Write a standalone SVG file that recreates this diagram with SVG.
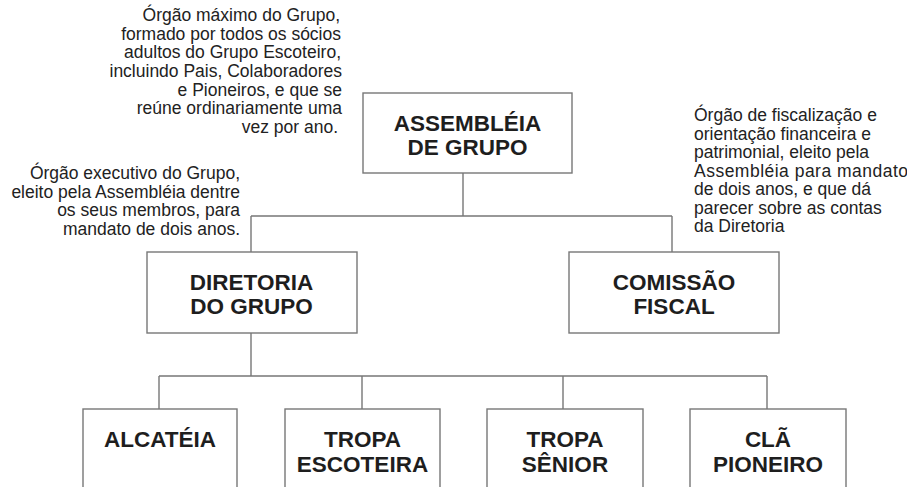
<svg xmlns="http://www.w3.org/2000/svg" width="907" height="487" viewBox="0 0 907 487">
<style>
.box{fill:#fff;stroke:#777;stroke-width:1.4}
.lbl{font-family:"Liberation Sans",Arial,sans-serif;font-weight:bold;font-size:22.5px;fill:#1e1e1e;text-anchor:middle}
.note{font-family:"Liberation Sans",Arial,sans-serif;font-size:17.5px;fill:#222}
.r{text-anchor:end}
.conn{fill:none;stroke:#777;stroke-width:1.4}
</style>
<rect width="907" height="487" fill="#fff"/>
<g id="connectors">
<path class="conn" d="M463,173 V216 M251,216 H672 M251,216 V252 M672,216 V252"/>
<path class="conn" d="M251,333 V376 M159,376 H767 M159,376 V409 M362,376 V409 M563,376 V409 M767,376 V409"/>
</g>
<g id="assembleia">
<rect class="box" x="363" y="93" width="209" height="80"/>
<text class="lbl" x="467.5" y="130.5">ASSEMBLÉIA</text>
<text class="lbl" x="467.5" y="154.5">DE GRUPO</text>
</g>
<g id="diretoria">
<rect class="box" x="147" y="252" width="210" height="81"/>
<text class="lbl" x="251.5" y="290">DIRETORIA</text>
<text class="lbl" x="251.5" y="314">DO GRUPO</text>
</g>
<g id="comissao">
<rect class="box" x="569" y="252" width="210" height="81"/>
<text class="lbl" x="674" y="290">COMISSÃO</text>
<text class="lbl" x="674" y="314">FISCAL</text>
</g>
<g id="alcateia">
<rect class="box" x="83" y="409" width="154" height="90"/>
<text class="lbl" x="160" y="447">ALCATÉIA</text>
</g>
<g id="tropa-escoteira">
<rect class="box" x="285" y="409" width="155" height="90"/>
<text class="lbl" x="362.5" y="447">TROPA</text>
<text class="lbl" x="362.5" y="472">ESCOTEIRA</text>
</g>
<g id="tropa-senior">
<rect class="box" x="487" y="409" width="156" height="90"/>
<text class="lbl" x="565" y="447">TROPA</text>
<text class="lbl" x="565" y="472">SÊNIOR</text>
</g>
<g id="cla-pioneiro">
<rect class="box" x="690" y="409" width="156" height="90"/>
<text class="lbl" x="768" y="447">CLÃ</text>
<text class="lbl" x="768" y="472">PIONEIRO</text>
</g>
<g id="note-assembleia">
<text class="note r" x="340" y="21">Órgão máximo do Grupo,</text>
<text class="note r" x="341" y="39.7">formado por todos os sócios</text>
<text class="note r" x="341" y="58.3">adultos do Grupo Escoteiro,</text>
<text class="note r" x="342" y="77">incluindo Pais, Colaboradores</text>
<text class="note r" x="342" y="95.7">e Pioneiros, e que se</text>
<text class="note r" x="342" y="114.3">reúne ordinariamente uma</text>
<text class="note r" x="338" y="133">vez por ano.</text>
</g>
<g id="note-diretoria">
<text class="note r" x="240" y="179">Órgão executivo do Grupo,</text>
<text class="note r" x="240" y="197.7">eleito pela Assembléia dentre</text>
<text class="note r" x="240" y="216.3">os seus membros, para</text>
<text class="note r" x="240" y="235">mandato de dois anos.</text>
</g>
<g id="note-comissao">
<text class="note" x="694" y="121">Órgão de fiscalização e</text>
<text class="note" x="694" y="139.5">orientação financeira e</text>
<text class="note" x="694" y="158">patrimonial, eleito pela</text>
<text class="note" x="694" y="176.5" textLength="214" lengthAdjust="spacing">Assembléia para mandato</text>
<text class="note" x="694" y="195">de dois anos, e que dá</text>
<text class="note" x="694" y="213.5">parecer sobre as contas</text>
<text class="note" x="694" y="232">da Diretoria</text>
</g>
</svg>
